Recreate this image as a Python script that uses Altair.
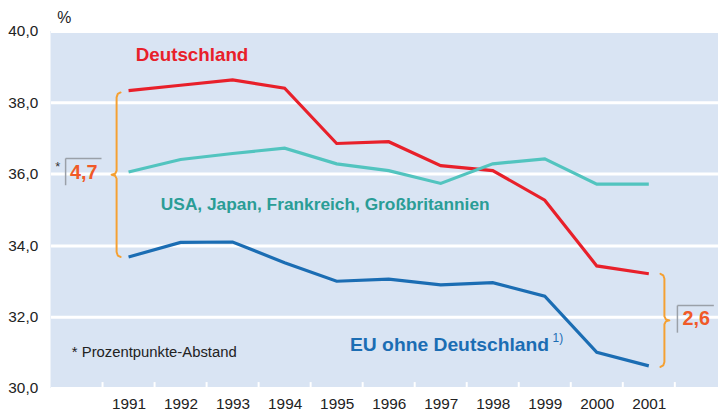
import altair as alt
import pandas as pd

# ---- data ----
years = list(range(1991, 2002))
deutschland = [38.33, 38.48, 38.63, 38.40, 36.85, 36.90, 36.23, 36.09, 35.26, 33.42, 33.20]
usa_jp_fr_gb = [36.05, 36.40, 36.57, 36.72, 36.28, 36.09, 35.73, 36.28, 36.42, 35.71, 35.71]
eu_ohne_de = [33.67, 34.08, 34.09, 33.51, 32.99, 33.05, 32.89, 32.95, 32.57, 31.00, 30.62]
series_names = ["Deutschland", "USA, Japan, Frankreich, Großbritannien", "EU ohne Deutschland"]
series_colors = ["#e8202a", "#52c4bf", "#1b6db3"]
y_ticks = [30, 32, 34, 36, 38, 40]
gap_labels = ["4,7", "2,6"]

FONT = "Liberation Sans"
W, H = 675, 361
X0, X1 = 1989.5, 2002.33
PX_X = W / (X1 - X0)          # pixels per year
PX_Y = H / 10.0               # pixels per percentage point

xscale = alt.Scale(domain=[X0, X1], nice=False, zero=False)
yscale = alt.Scale(domain=[30, 40], nice=False, zero=False)
x_axis = alt.Axis(values=years, format="d", title=None, grid=False, ticks=False,
                  domain=False, labelFontSize=15.5, labelColor="#222",
                  labelFont=FONT, labelPadding=9)
y_axis = alt.Axis(values=y_ticks, title=None, grid=True, gridColor="white",
                  gridWidth=3, gridOpacity=1, ticks=False, domain=False,
                  labelExpr="replace(format(datum.value, '.1f'), '.', ',')",
                  labelFontSize=15.5, labelColor="#222", labelFont=FONT,
                  labelPadding=13)

rows = []
for name, vals in zip(series_names, [deutschland, usa_jp_fr_gb, eu_ohne_de]):
    for yr, v in zip(years, vals):
        rows.append({"Jahr": yr, "Wert": v, "Reihe": name})
df = pd.DataFrame(rows)

lines = alt.Chart(df).mark_line(strokeWidth=3.2).encode(
    x=alt.X("Jahr:Q", scale=xscale, axis=x_axis),
    y=alt.Y("Wert:Q", scale=yscale, axis=y_axis),
    color=alt.Color("Reihe:N", scale=alt.Scale(domain=series_names, range=series_colors),
                    legend=None),
    detail="Reihe:N",
)

# white band-boundary ticks at the bottom
bounds = pd.DataFrame({"Jahr": [y - 0.5 for y in years] + [years[-1] + 0.5]})
ticks = alt.Chart(bounds).mark_rule(color="white", strokeWidth=2).encode(
    x=alt.X("Jahr:Q", scale=xscale, axis=x_axis),
    y=alt.value(H), y2=alt.value(H - 6),
)

# braces spanning Deutschland vs EU in 1991 and 2001
def brace(name, xc, top, bot, d):
    hp = (top - bot) * PX_Y
    mid = hp / 2
    pts = [(-d * 4, 0), (-d * 1.2, 1.5), (0, 5), (0, mid - 4), (d * 1.5, mid - 1),
           (d * 5, mid), (d * 1.5, mid + 1), (0, mid + 4), (0, hp - 5),
           (-d * 1.2, hp - 1.5), (-d * 4, hp)]
    return [{"brace": name, "o": i, "Jahr": xc + px / PX_X, "Wert": top - py / PX_Y}
            for i, (px, py) in enumerate(pts)]

br = pd.DataFrame(
    brace("l", years[0] - 0.23, deutschland[0] - 0.05, eu_ohne_de[0], -1)
    + brace("r", years[-1] + 0.30, deutschland[-1], eu_ohne_de[-1] - 0.03, 1)
)
braces = alt.Chart(br).mark_line(color="#f5a032", strokeWidth=2, strokeJoin="round",
                                 strokeCap="round").encode(
    x=alt.X("Jahr:Q", scale=xscale, axis=x_axis),
    y=alt.Y("Wert:Q", scale=yscale, axis=y_axis),
    detail="brace:N", order="o:Q",
)

# boxes around gap numbers (left + top line)
box = pd.DataFrame([
    {"Jahr": 1989.79, "x2": 1989.79, "Wert": 36.43, "y2": 35.68},
    {"Jahr": 1989.79, "x2": 1990.48, "Wert": 36.43, "y2": 36.43},
    {"Jahr": 2001.55, "x2": 2001.55, "Wert": 32.31, "y2": 31.55},
    {"Jahr": 2001.55, "x2": 2002.25, "Wert": 32.31, "y2": 32.31},
])
boxes = alt.Chart(box).mark_rule(color="#9aa0a8", strokeWidth=1.5).encode(
    x=alt.X("Jahr:Q", scale=xscale, axis=x_axis), x2="x2:Q",
    y=alt.Y("Wert:Q", scale=yscale, axis=y_axis), y2="y2:Q",
)

# text annotations
ann = [
    # text, x, y, size, color, bold, align
    (series_names[0], 1992.22, 39.34, 19, "#e8202a", True, "center"),
    (series_names[1], 1994.78, 35.12, 17.5, "#2a9d96", True, "center"),
    (series_names[2], 1997.17, 31.19, 19.5, "#1b6db3", True, "center"),
    ("1)", 1999.15, 31.40, 12, "#1b6db3", False, "left"),
    ("* Prozentpunkte-Abstand", 1989.91, 31.02, 15, "#222222", False, "left"),
    ("%", 1989.63, 40.36, 16, "#222222", False, "left"),
    (gap_labels[0], 1990.14, 36.03, 20, "#f05a28", True, "center"),
    (gap_labels[1], 2001.91, 31.92, 20, "#f05a28", True, "center"),
    ("*", 1989.64, 36.18, 13, "#333333", False, "center"),
]
texts = []
for i, (t, x, y, size, color, bold, align) in enumerate(ann):
    d = pd.DataFrame({"Jahr": [x], "Wert": [y], "t": [t]})
    texts.append(
        alt.Chart(d).mark_text(fontSize=size, color=color, font=FONT,
                               fontWeight="bold" if bold else "normal", align=align,
                               baseline="middle").encode(
            x=alt.X("Jahr:Q", scale=xscale, axis=x_axis),
            y=alt.Y("Wert:Q", scale=yscale, axis=y_axis),
            text="t:N",
        )
    )

chart = alt.layer(lines, ticks, braces, boxes, *texts).properties(
    width=W, height=H,
    background="white",
    autosize=alt.AutoSizeParams(type="none"),
    padding={"left": 43, "top": 21, "right": 0, "bottom": 24},
).configure_view(fill="#d9e4f3", stroke=None)

chart.save("out.html", embed_options={"renderer": "svg", "actions": False})
